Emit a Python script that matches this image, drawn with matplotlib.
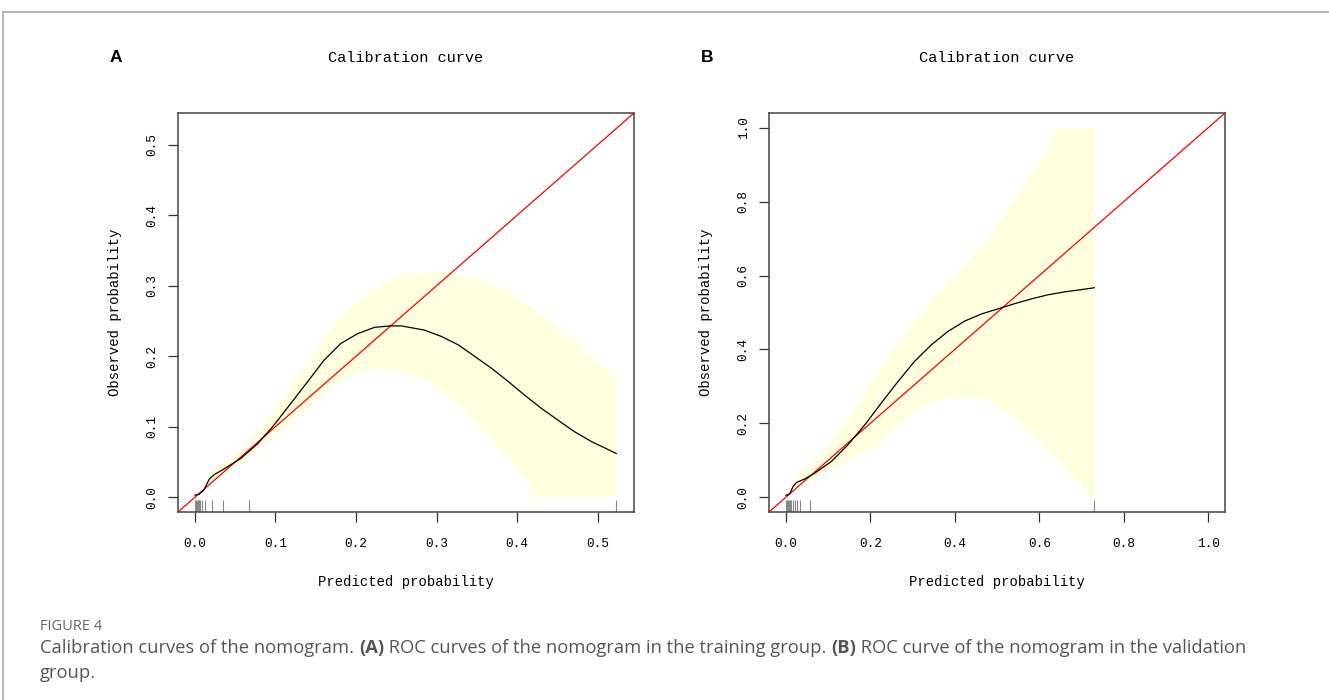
import matplotlib
matplotlib.use("Agg")
import matplotlib.pyplot as plt
import matplotlib.transforms as mtransforms
from matplotlib.lines import Line2D
import numpy as np

# ---- panel A (training group) ----
a_curve_x = [0.000, 0.005, 0.011, 0.018, 0.024, 0.036, 0.057, 0.078, 0.098, 0.119, 0.140,
             0.160, 0.181, 0.202, 0.223, 0.243, 0.256, 0.285, 0.306, 0.327, 0.347, 0.368,
             0.389, 0.409, 0.430, 0.451, 0.471, 0.492, 0.523]
a_curve_y = [0.003, 0.004, 0.010, 0.026, 0.032, 0.040, 0.055, 0.076, 0.102, 0.133, 0.164,
             0.194, 0.218, 0.232, 0.241, 0.243, 0.243, 0.237, 0.228, 0.216, 0.200, 0.183,
             0.164, 0.145, 0.126, 0.109, 0.093, 0.079, 0.062]
a_upper_x = [0.004, 0.011, 0.020, 0.036, 0.057, 0.078, 0.098, 0.119, 0.140, 0.160, 0.181,
             0.202, 0.223, 0.243, 0.264, 0.289, 0.314, 0.347, 0.389, 0.430, 0.471, 0.496, 0.523]
a_upper_y = [0.004, 0.012, 0.039, 0.048, 0.067, 0.091, 0.124, 0.157, 0.192, 0.226, 0.256,
             0.279, 0.296, 0.308, 0.315, 0.320, 0.319, 0.312, 0.293, 0.260, 0.220, 0.197, 0.171]
a_lower_x = [0.004, 0.011, 0.020, 0.036, 0.057, 0.078, 0.098, 0.119, 0.140, 0.160, 0.181,
             0.202, 0.223, 0.239, 0.264, 0.285, 0.306, 0.327, 0.347, 0.368, 0.389, 0.409,
             0.4215, 0.523]
a_lower_y = [0.003, 0.008, 0.020, 0.032, 0.048, 0.067, 0.086, 0.107, 0.126, 0.147, 0.164,
             0.176, 0.181, 0.182, 0.176, 0.166, 0.151, 0.131, 0.107, 0.081, 0.055, 0.029,
             0.000, 0.000]
a_rug = [0.000, 0.0015, 0.0025, 0.0035, 0.0045, 0.0056, 0.0068, 0.0089, 0.013, 0.0207,
         0.035, 0.067, 0.523]
a_ticks = [0.0, 0.1, 0.2, 0.3, 0.4, 0.5]
a_lim = (-0.021, 0.545)

# ---- panel B (validation group) ----
b_curve_x = [0.000, 0.009, 0.017, 0.025, 0.044, 0.068, 0.108, 0.147, 0.187, 0.226, 0.266,
             0.305, 0.345, 0.384, 0.424, 0.463, 0.503, 0.542, 0.582, 0.621, 0.661, 0.700, 0.7305]
b_curve_y = [0.005, 0.009, 0.029, 0.040, 0.049, 0.065, 0.097, 0.142, 0.196, 0.255, 0.314,
             0.368, 0.413, 0.449, 0.477, 0.496, 0.510, 0.524, 0.537, 0.548, 0.556, 0.562, 0.567]
b_upper_x = [0.005, 0.015, 0.028, 0.068, 0.108, 0.147, 0.187, 0.226, 0.266, 0.305, 0.345,
             0.384, 0.424, 0.463, 0.503, 0.542, 0.582, 0.621, 0.645, 0.7305]
b_upper_y = [0.006, 0.025, 0.060, 0.097, 0.147, 0.210, 0.282, 0.354, 0.418, 0.477, 0.531,
             0.581, 0.630, 0.685, 0.743, 0.807, 0.874, 0.947, 1.000, 1.000]
b_lower_x = [0.005, 0.015, 0.028, 0.044, 0.108, 0.147, 0.187, 0.226, 0.266, 0.305, 0.345,
             0.384, 0.432, 0.463, 0.503, 0.542, 0.582, 0.621, 0.661, 0.700, 0.720, 0.7305]
b_lower_y = [0.004, 0.012, 0.028, 0.038, 0.074, 0.097, 0.119, 0.155, 0.196, 0.232, 0.257,
             0.269, 0.271, 0.266, 0.246, 0.214, 0.174, 0.128, 0.079, 0.029, 0.000, 0.000]
b_rug = [0.000, 0.0024, 0.0047, 0.007, 0.0095, 0.0126, 0.0158, 0.0206, 0.027, 0.033,
         0.057, 0.7305]
b_ticks = [0.0, 0.2, 0.4, 0.6, 0.8, 1.0]
b_lim = (-0.04, 1.04)

panel_title = "Calibration curve"
x_label = "Predicted probability"
y_label = "Observed probability"
caption_head = "FIGURE 4"
caption_lines = ["Calibration curves of the nomogram. ", "(A)",
                 " ROC curves of the nomogram in the training group. ", "(B)",
                 " ROC curve of the nomogram in the validation"]
caption_tail = "group."

mono = "Liberation Mono"

fig = plt.figure(figsize=(13.29, 7.0), dpi=100)

# grey page frame (top and left edge)
fig.add_artist(Line2D([3 / 1329, 1.0], [1 - 12 / 700, 1 - 12 / 700], transform=fig.transFigure,
                      color="#aaaaaa", lw=1.2))
fig.add_artist(Line2D([3 / 1329, 3 / 1329], [0.0, 1 - 12 / 700], transform=fig.transFigure,
                      color="#aaaaaa", lw=1.2))


def draw_panel(left, letter, cx, cy, ux, uy, lx, ly, rug, ticks, lim):
    ax = fig.add_axes([left, 1 - 512 / 700, 456 / 1329, 399 / 700])
    # confidence band
    poly_x = np.concatenate([ux, lx[::-1]])
    poly_y = np.concatenate([uy, ly[::-1]])
    ax.fill(poly_x, poly_y, color="#ffffe0", lw=0, zorder=1)
    ax.axline((0, 0), slope=1, color="red", lw=0.9, zorder=3)
    ax.plot(cx, cy, color="black", lw=0.9, zorder=4)
    trans = mtransforms.blended_transform_factory(ax.transData, ax.transAxes)
    ax.vlines(rug, 0, 0.03, transform=trans, color="#888888", lw=0.8, zorder=2)

    ax.set_xlim(lim)
    ax.set_ylim(lim)
    ax.set_xticks(ticks)
    ax.set_yticks(ticks)
    ax.set_xticklabels([f"{t:.1f}" for t in ticks], family=mono, fontsize=9.2)
    ax.set_yticklabels([f"{t:.1f}" for t in ticks], family=mono, fontsize=9.2,
                       rotation=90, va="center")
    ax.tick_params(length=7, width=0.9, color="#333333", pad=12)
    ax.tick_params(axis="y", pad=7)
    for s in ax.spines.values():
        s.set_color("#444444")
        s.set_linewidth(1.1)
    ax.set_xlabel(x_label, family=mono, fontsize=10, labelpad=18)
    ax.set_ylabel(y_label, family=mono, fontsize=10, labelpad=18)
    ax.set_title(panel_title, family=mono, fontsize=11, pad=37)
    fig.text(left - 62 / 1329, 1 - 58 / 700, letter, fontsize=12.5, fontweight="bold",
             family="Liberation Sans", ha="center", va="center")
    return ax


draw_panel(178 / 1329, "A", a_curve_x, a_curve_y, a_upper_x, a_upper_y,
           a_lower_x, a_lower_y, a_rug, a_ticks, a_lim)
draw_panel(769 / 1329, "B", b_curve_x, b_curve_y, b_upper_x, b_upper_y,
           b_lower_x, b_lower_y, b_rug, b_ticks, b_lim)

# caption
fig.text(40 / 1329, 1 - 627 / 700, caption_head, fontsize=10.5, color="#666666",
         family="Open Sans", va="center")
x = 40
renderer = fig.canvas.get_renderer()
for i, part in enumerate(caption_lines):
    t = fig.text(x / 1329, 1 - 648 / 700, part, fontsize=13.2, color="#555555",
                 family="Open Sans", va="center",
                 fontweight="bold" if part.startswith("(") else "normal")
    x += t.get_window_extent(renderer).width
fig.text(40 / 1329, 1 - 673 / 700, caption_tail, fontsize=13.2, color="#555555",
         family="Open Sans", va="center")

fig.savefig("out.png", dpi=100)
